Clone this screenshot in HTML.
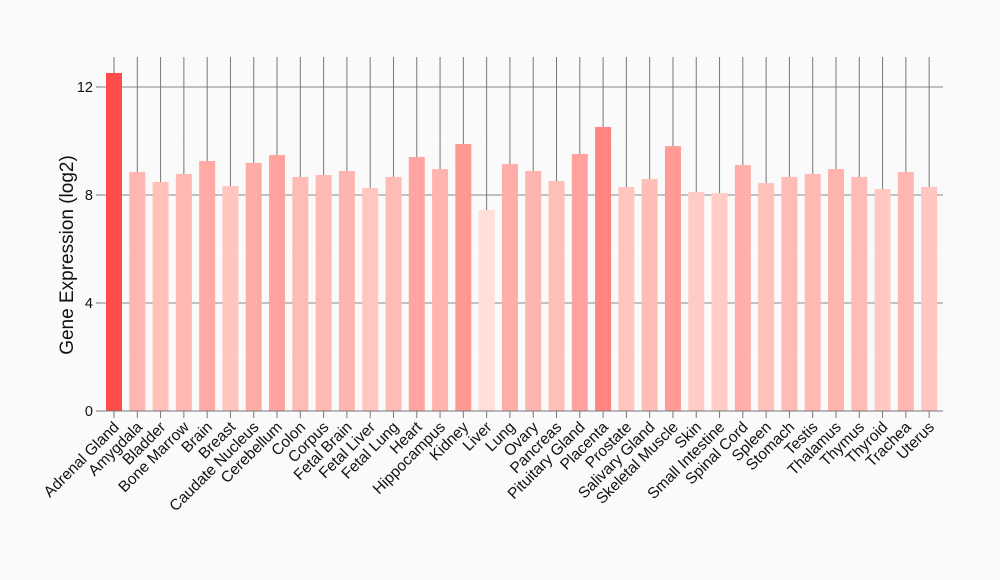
<!DOCTYPE html><html><head><style>body{margin:0;background:#fafafa}svg{display:block}</style></head><body>
<svg id="s" width="1000" height="580" xmlns="http://www.w3.org/2000/svg" font-family="Liberation Sans, sans-serif"></svg>
<script>
const names=["Adrenal Gland","Amygdala","Bladder","Bone Marrow","Brain","Breast","Caudate Nucleus","Cerebellum","Colon","Corpus","Fetal Brain","Fetal Liver","Fetal Lung","Heart","Hippocampus","Kidney","Liver","Lung","Ovary","Pancreas","Pituitary Gland","Placenta","Prostate","Salivary Gland","Skeletal Muscle","Skin","Small Intestine","Spinal Cord","Spleen","Stomach","Testis","Thalamus","Thymus","Thyroid","Trachea","Uterus"];
const v=[12.52,8.85,8.48,8.78,9.26,8.33,9.19,9.48,8.67,8.74,8.89,8.26,8.67,9.41,8.96,9.89,7.44,9.15,8.89,8.52,9.52,10.52,8.3,8.59,9.81,8.11,8.07,9.11,8.44,8.67,8.78,8.96,8.67,8.22,8.85,8.3];
const y0=411,k=27.0,x0=114,dx=23.29;let h='<rect width="1000" height="580" fill="#fafafa"/>';
[4,8,12].forEach(t=>{const y=y0-t*k;h+=`<line x1="102" x2="943" y1="${y}" y2="${y}" stroke="#888" stroke-width="1"/>`;});
[2,6,10].forEach(t=>{const y=y0-t*k;h+=`<line x1="102" x2="943" y1="${y}" y2="${y}" stroke="#fff" stroke-width="1"/>`;});
names.forEach((n,i)=>{const x=x0+i*dx;h+=`<line x1="${x}" x2="${x}" y1="57" y2="418" stroke="#777" stroke-width="1"/>`;});
names.forEach((n,i)=>{const x=x0+i*dx,t=Math.max(0,Math.min(1,(v[i]-7.4)/(12.55-7.4)));const g=Math.round(224-150*t),b=Math.round(216-142*t);const top=y0-v[i]*k;
h+=`<rect x="${x-8}" y="${top}" width="16" height="${y0-top}" fill="rgb(255,${g},${b})"/>`;
h+=`<text transform="translate(${x+6},${428}) rotate(-45)" text-anchor="end" font-size="15.5" fill="#111">${n}</text>`;});
h+=`<line x1="98" x2="943" y1="${y0}" y2="${y0}" stroke="#777"/>`;
[0,4,8,12].forEach(t=>{const y=y0-t*k;h+=`<line x1="96" x2="102" y1="${y}" y2="${y}" stroke="#777"/><text x="93" y="${y+5}" text-anchor="end" font-size="14.5" fill="#111">${t}</text>`;});
h+=`<text transform="translate(73,255) rotate(-90)" text-anchor="middle" font-size="19" fill="#111">Gene Expression (log2)</text>`;
document.getElementById('s').innerHTML=h;
</script></body></html>
